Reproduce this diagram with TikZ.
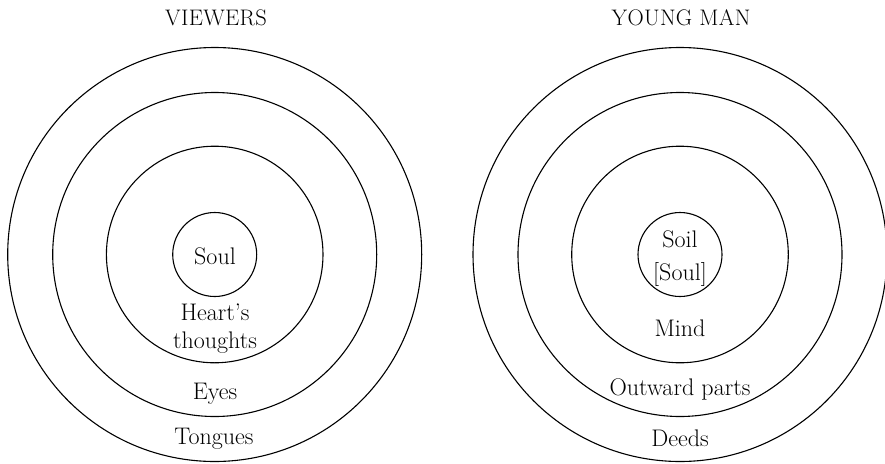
\documentclass[tikz,border=0pt]{standalone}
\usepackage{fontspec}
\setmainfont{Latin Modern Roman}
\begin{document}
\begin{tikzpicture}[x=1pt,y=-1pt,
  ring/.style={circle,draw,line width=1.1pt,inner sep=0pt,minimum size=#1},
  lbl/.style={anchor=base,inner sep=0pt,font=\fontsize{24}{29}\selectfont},
  ttl/.style={anchor=base,inner sep=0pt,font=\fontsize{22.5}{26}\selectfont\addfontfeatures{LetterSpace=1.5}}]
\useasboundingbox (0,0) rectangle (885,463);
\clip (0,0) rectangle (885,463);

% left set of rings
\coordinate (lc) at (214.7,254.5);
\node[ring=414pt]   (l1) at (lc) {};
\node[ring=324pt]   (l2) at (lc) {};
\node[ring=216.6pt] (l3) at (lc) {};
\node[ring=84pt]    (l4) at (lc) {};

% right set of rings
\coordinate (rc) at (680,254.5);
\node[ring=414pt]   (r1) at (rc) {};
\node[ring=324pt]   (r2) at (rc) {};
\node[ring=216.6pt] (r3) at (rc) {};
\node[ring=84pt]    (r4) at (rc) {};

% headings
\node[ttl] (lt) at (216,25) {VIEWERS};
\node[ttl] (rt) at (681,25) {YOUNG MAN};

% left labels
\node[lbl] (ls)  at (215,264)   {Soul};
\node[lbl] (lh1) at (215,320)   {Heart’s};
\node[lbl] (lh2) at (215,348)   {thoughts};
\node[lbl] (le)  at (215,399)   {Eyes};
\node[lbl] (lg)  at (214,444)   {Tongues};

% right labels
\node[lbl] (rs1) at (680,247)   {Soil};
\node[lbl] (rs2) at (680,280)   {[Soul]};
\node[lbl] (rm)  at (680,336)   {Mind};
\node[lbl] (ro)  at (680,395)   {Outward parts};
\node[lbl] (rd)  at (680,446)   {Deeds};
\end{tikzpicture}
\end{document}
